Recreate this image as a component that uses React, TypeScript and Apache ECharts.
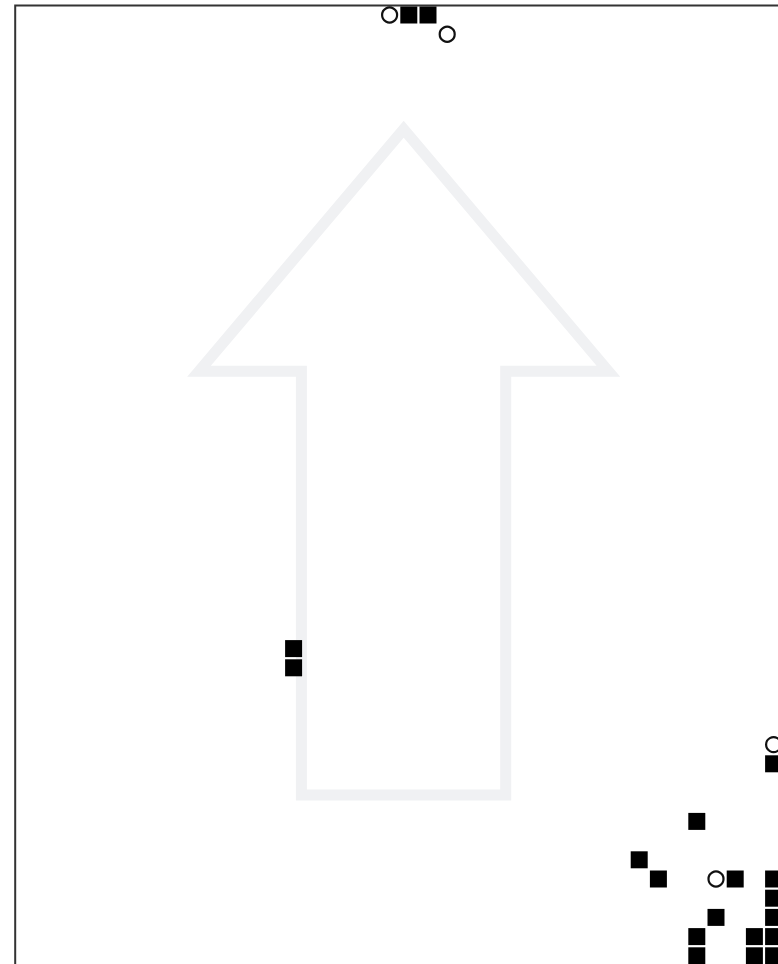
import React, { useEffect, useRef } from "react";
import * as echarts from "echarts";

// Grid size (cells per side)
const gridCols = 50;
const gridRows = 50;

// Filled cells: [column, row]
const squareCells: [number, number][] = [
  [20, 0], [21, 0],
  [14, 33], [14, 34],
  [39, 39],
  [35, 42],
  [32, 44],
  [33, 45], [37, 45], [39, 45],
  [39, 46],
  [36, 47], [39, 47],
  [35, 48], [38, 48], [39, 48],
  [35, 49], [38, 49], [39, 49],
];

// Hollow cells: [column, row]
const circleCells: [number, number][] = [
  [19, 0], [22, 1], [39, 38], [36, 45],
];

// Background arrow outline (page pixels)
const arrowPoints: [number, number][] = [
  [403.7, 129.2],
  [608.4, 371.3],
  [505.7, 371.3],
  [505.7, 795],
  [301.4, 795],
  [301.4, 371.3],
  [199.0, 371.3],
];

export default function App() {
  const ref = useRef<HTMLDivElement>(null);
  useEffect(() => {
    if (!ref.current) return;
    const chart = echarts.init(ref.current, null, { renderer: "svg" });
    const toPt = (c: [number, number]) => [c[0] + 0.5, c[1] + 0.5];
    chart.setOption({
      animation: false,
      backgroundColor: "#ffffff",
      grid: {
        left: 15.2,
        top: 5.4,
        width: 960,
        height: 960,
        show: true,
        borderColor: "#333333",
        borderWidth: 2,
        backgroundColor: "transparent",
      },
      xAxis: { type: "value", min: 0, max: gridCols, show: false },
      yAxis: { type: "value", min: 0, max: gridRows, inverse: true, show: false },
      graphic: [
        {
          type: "polygon",
          z: 0,
          shape: { points: arrowPoints },
          style: {
            fill: "none",
            stroke: "#f0f1f3",
            lineWidth: 11,
            lineJoin: "miter",
            miterLimit: 10,
          },
          silent: true,
        },
      ],
      series: [
        {
          type: "scatter",
          z: 3,
          symbol: "rect",
          symbolSize: 17,
          itemStyle: { color: "#000000", opacity: 1 },
          data: squareCells.map(toPt),
        },
        {
          type: "scatter",
          z: 3,
          symbol: "circle",
          symbolSize: 15,
          itemStyle: {
            color: "#ffffff",
            borderColor: "#111111",
            borderWidth: 2.2,
            opacity: 1,
          },
          data: circleCells.map(toPt),
        },
      ],
    });
    return () => chart.dispose();
  }, []);
  return (
    <div
      style={{
        position: "fixed",
        left: 0,
        top: 0,
        width: 778,
        height: 964,
        overflow: "hidden",
        background: "#fff",
      }}
    >
      <div ref={ref} style={{ width: 1000, height: 1000 }} />
    </div>
  );
}
